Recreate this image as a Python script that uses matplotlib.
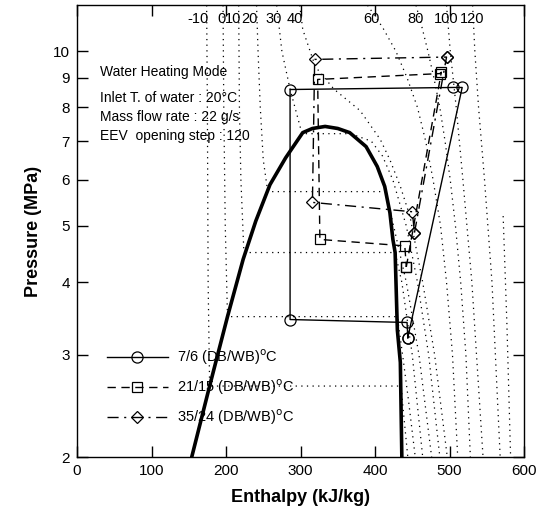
import numpy as np
import matplotlib.pyplot as plt

plt.rcParams['font.family'] = ['Liberation Sans', 'DejaVu Sans']

# saturation dome of CO2 (enthalpy kJ/kg, pressure MPa)
dome_h = [154, 178, 202, 223, 240, 259, 280, 303, 316, 333, 350, 366, 388, 403, 413, 420, 424, 427, 430, 434, 436]
dome_p = [2.0, 2.65, 3.49, 4.38, 5.1, 5.89, 6.55, 7.24, 7.36, 7.42, 7.36, 7.24, 6.85, 6.33, 5.85, 5.27, 4.74, 4.5, 3.31, 2.91, 2.0]

# isotherms (dotted), top of chart -> bottom
iso_temps = [-10, 0, 10, 20, 30, 40, 60, 80, 100, 120, 140]
iso_h = [
    [174, 175, 176, 178, 435, 438, 444],
    [196, 197, 199, 202, 430, 437, 445, 454],
    [217, 218, 220, 224, 427, 436, 450, 464],
    [241, 243, 246, 250, 256, 414, 425, 442, 459, 476],
    [268, 275, 286, 302, 367, 395, 410, 424, 442, 457, 472, 487],
    [299, 303, 320, 345, 380, 407, 420, 434, 447, 464, 480, 497],
    [390, 410, 428, 443, 457, 468, 478, 488, 496, 504, 511],
    [455, 463, 471, 479, 487, 494, 501, 508, 515, 522, 528],
    [496, 501, 509, 518, 530, 545],
    [531, 534, 539, 547, 557, 568],
    [572, 577, 582],
]
iso_p = [
    [12, 8, 4, 2.65, 2.65, 2.4, 2.0],
    [12, 8, 5, 3.49, 3.49, 3.0, 2.5, 2.0],
    [12, 8, 6, 4.5, 4.5, 4.0, 3.0, 2.0],
    [12, 10, 8, 6.5, 5.73, 5.73, 5.0, 4.0, 3.0, 2.0],
    [12, 10, 8.6, 7.21, 7.21, 7.0, 6.6, 6.0, 5.0, 4.0, 3.0, 2.0],
    [12, 10.9, 9.4, 8.6, 7.9, 7.05, 6.5, 5.85, 5.19, 4.0, 3.0, 2.0],
    [12, 11, 10, 9, 8, 7, 6, 5, 4, 3, 2],
    [12, 11, 10, 9, 8, 7, 6, 5, 4, 3, 2],
    [12, 10, 8, 6, 4, 2],
    [12, 10, 8, 6, 4, 2],
    [5.2, 3.4, 2],
]
# where the temperature labels sit along the top
label_temps = [-10, 0, 10, 20, 30, 40, 60, 80, 100, 120]
label_h = [162, 194, 210, 231, 264, 292, 395, 455, 496, 531]

# measured cycles: suction -> discharge -> gas cooler exit -> expansion -> evaporator exit -> suction
c1_h = [444, 517, 505, 286, 286, 443, 444]
c1_p = [3.21, 8.66, 8.66, 8.59, 3.45, 3.41, 3.21]
c2_h = [442, 489, 487, 323, 326, 440, 442]
c2_p = [4.25, 9.2, 9.15, 8.94, 4.74, 4.62, 4.25]
c3_h = [453, 496, 496, 319, 316, 450, 453]
c3_p = [4.87, 9.77, 9.77, 9.68, 5.49, 5.29, 4.87]
cycle_labels = ['7/6 (DB/WB)$^{\\rm o}$C', '21/15 (DB/WB)$^{\\rm o}$C', '35/24 (DB/WB)$^{\\rm o}$C']

fig = plt.figure(figsize=(5.4, 5.22), dpi=100)
ax = fig.add_axes([0.1426, 0.1245, 0.8278, 0.8655])

for h, p in zip(iso_h, iso_p):
    ax.plot(h, p, color='black', lw=0.9, linestyle=(0, (1, 3.5)))

ax.plot(dome_h, dome_p, color='black', lw=2.6, solid_capstyle='round')

ax.plot(c1_h, c1_p, '-', color='black', lw=1.0, marker='o', ms=8,
        mfc='none', mec='black', mew=0.9, label=cycle_labels[0])
ax.plot(c2_h, c2_p, color='black', lw=1.0, linestyle=(0, (6, 4)), marker='s', ms=7,
        mfc='none', mec='black', mew=0.9, label=cycle_labels[1])
ax.plot(c3_h, c3_p, color='black', lw=1.0, linestyle=(0, (8, 4, 1.5, 4)), marker='D', ms=6,
        mfc='none', mec='black', mew=0.9, label=cycle_labels[2])

for t, h in zip(label_temps, label_h):
    ax.text(h, 11.35, str(t), ha='center', va='center', fontsize=10.5)

ax.text(0.051, 0.852, 'Water Heating Mode', transform=ax.transAxes, fontsize=10, va='center')
ax.text(0.051, 0.794, 'Inlet T. of water : 20°C', transform=ax.transAxes, fontsize=10, va='center')
ax.text(0.051, 0.752, 'Mass flow rate : 22 g/s', transform=ax.transAxes, fontsize=10, va='center')
ax.text(0.051, 0.710, 'EEV  opening step : 120', transform=ax.transAxes, fontsize=10, va='center')

ax.set_yscale('log')
ax.set_xlim(0, 600)
ax.set_ylim(2, 12)
ax.set_xticks([0, 100, 200, 300, 400, 500, 600])
ax.set_yticks([2, 3, 4, 5, 6, 7, 8, 9, 10])
ax.set_yticklabels(['2', '3', '4', '5', '6', '7', '8', '9', '10'])
ax.minorticks_off()
ax.tick_params(direction='in', length=8, width=1, top=True, right=True, labelsize=11, pad=5)
ax.set_xlabel('Enthalpy (kJ/kg)', fontsize=13, fontweight='bold', labelpad=8)
ax.set_ylabel('Pressure (MPa)', fontsize=13, fontweight='bold', labelpad=8)
for s in ax.spines.values():
    s.set_linewidth(1.0)

ax.legend(loc='upper left', bbox_to_anchor=(0.05, 0.259), frameon=False, fontsize=10.5,
          handlelength=4.2, labelspacing=0.73, handletextpad=0.6, borderpad=0)

fig.savefig('out.png', dpi=100)
